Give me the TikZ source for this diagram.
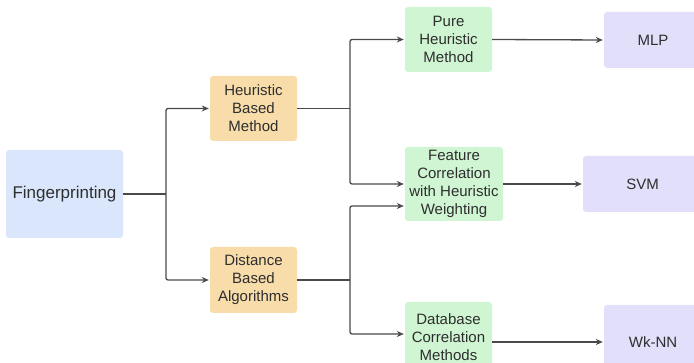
\documentclass[tikz,border=0pt]{standalone}
\usepackage{fontspec}
\setmainfont{Liberation Sans}
\usetikzlibrary{arrows.meta}
\definecolor{cblue}{HTML}{DAE6FB}
\definecolor{corange}{HTML}{F8DCAA}
\definecolor{cgreen}{HTML}{CFF5D2}
\definecolor{cpurple}{HTML}{E1DFFA}
\definecolor{ctext}{HTML}{2E2E2E}
\definecolor{cline}{HTML}{4A4A4A}
\tikzset{
  box/.style={rounded corners=3pt, draw=none, text=ctext, align=center, inner sep=0pt,
    font=\fontsize{15}{18}\selectfont},
  bluebox/.style={box, fill=cblue},
  orangebox/.style={box, fill=corange},
  greenbox/.style={box, fill=cgreen},
  purplebox/.style={box, fill=cpurple},
  conn/.style={draw=cline, line width=1.3pt, rounded corners=2pt},
  arr/.style={conn, -{Stealth[length=7pt,width=6pt]}, shorten >=1pt}
}
\begin{document}
\begin{tikzpicture}[x=1pt,y=-1pt]
\useasboundingbox (0,0) rectangle (694,363);
\clip (0,0) rectangle (694,363);
\node[bluebox, minimum width=117pt, minimum height=88pt, font=\fontsize{17}{20}\selectfont] (fp) at (64.5,194) {Fingerprinting};
\node[orangebox, minimum width=87pt, minimum height=65pt] (heur) at (253.5,108.5) {Heuristic\\Based\\Method};
\node[orangebox, minimum width=87pt, minimum height=66pt] (dist) at (253.5,280) {Distance\\Based\\Algorithms};
\node[greenbox, minimum width=87pt, minimum height=65pt] (pure) at (448.5,39.5) {Pure\\Heuristic\\Method};
\node[greenbox, minimum width=98pt, minimum height=74pt] (feat) at (454,184) {Feature\\Correlation\\with Heuristic\\Weighting};
\node[greenbox, minimum width=87pt, minimum height=70pt] (db) at (448.5,337) {Database\\Correlation\\Methods};
\node[purplebox, minimum width=98pt, minimum height=56pt] (mlp) at (653,40) {MLP};
\node[purplebox, minimum width=119pt, minimum height=56pt] (svm) at (642.5,184) {SVM};
\node[purplebox, minimum width=98pt, minimum height=74pt] (wknn) at (653,342) {Wk-NN};

\coordinate (j1) at (166,194);
\coordinate (j2) at (350,108.5);
\coordinate (j3) at (350,280);

\draw[conn] (fp.east) -- (j1);
\draw[arr] (j1) |- (heur.west);
\draw[arr] (j1) |- (dist.west);
\draw[conn] (heur.east) -- (j2);
\draw[arr] (j2) |- (pure.west);
\draw[arr] (j2) |- (feat.west);
\draw[conn] (dist.east) -- (j3);
\draw[arr] (j3) |- ([yshift=-22pt]feat.west);
\draw[arr] (j3) |- ([yshift=3pt]db.west);
\draw[arr] (pure.east) -- (mlp.west);
\draw[arr] (feat.east) -- (svm.west);
\draw[arr] (wknn.west -| db.east) -- (wknn.west);
\end{tikzpicture}
\end{document}
